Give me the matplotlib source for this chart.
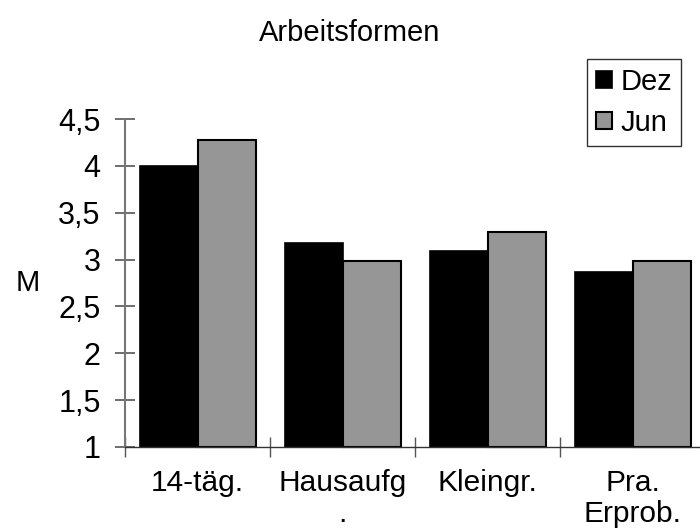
import matplotlib
matplotlib.use("Agg")
import matplotlib.pyplot as plt
import numpy as np

categories = ["14-täg.", "Hausaufg\n.", "Kleingr.", "Pra.\nErprob."]
dez = [4.0, 3.18, 3.09, 2.87]
jun = [4.28, 2.98, 3.29, 2.98]
yticks = [1, 1.5, 2, 2.5, 3, 3.5, 4, 4.5]
ytick_labels = ["1", "1,5", "2", "2,5", "3", "3,5", "4", "4,5"]

plt.rcParams['font.family'] = ['Liberation Sans', 'DejaVu Sans']

fig = plt.figure(figsize=(7, 5.31), dpi=100)
ax = fig.add_axes([125/700, 1-447/531, 580/700, (447-119)/531])

x = np.arange(len(categories))
w = 0.4
ax.bar(x - w/2, np.array(dez) - 1, w, bottom=1, color='black', edgecolor='black', linewidth=1.2, label='Dez', clip_on=False)
ax.bar(x + w/2, np.array(jun) - 1, w, bottom=1, color='#969696', edgecolor='black', linewidth=1.5, label='Jun', clip_on=False)

ax.set_xlim(-0.5, 3.5)
ax.set_ylim(1, 4.5)
ax.set_yticks(yticks)
ax.set_yticklabels(ytick_labels, fontsize=22)
ax.set_xticks(np.arange(-0.5, 3.6, 1.0))
ax.set_xticklabels([])
ax.tick_params(axis='y', direction='inout', length=15, width=1.2, color='#555555', pad=10)
ax.tick_params(axis='x', direction='inout', length=15, width=1.0, color='#555555')
for c, lab in zip(x, categories):
    ax.text(c, 1 - 0.24, lab, ha='center', va='top', fontsize=21.5, linespacing=1.12,
            transform=ax.transData)

for s in ['top', 'right']:
    ax.spines[s].set_visible(False)
ax.spines['left'].set_color('#777777')
ax.spines['left'].set_linewidth(1.5)
ax.spines['bottom'].set_color('#333333')
ax.spines['bottom'].set_linewidth(1.0)

fig.text(350/700, 1-33/531, "Arbeitsformen", ha='center', va='center', fontsize=21)
fig.text(28/700, 1-283/531, "M", ha='center', va='center', fontsize=21)

leg = fig.legend(loc='upper left', bbox_to_anchor=(587/700, 1-59/531), fontsize=21,
                 frameon=True, fancybox=False, edgecolor='black', borderpad=0.3,
                 handlelength=0.55, handleheight=0.55, handletextpad=0.3, labelspacing=0.45,
                 borderaxespad=0)
leg.get_frame().set_linewidth(1.0)

fig.savefig("out.png", dpi=100)
